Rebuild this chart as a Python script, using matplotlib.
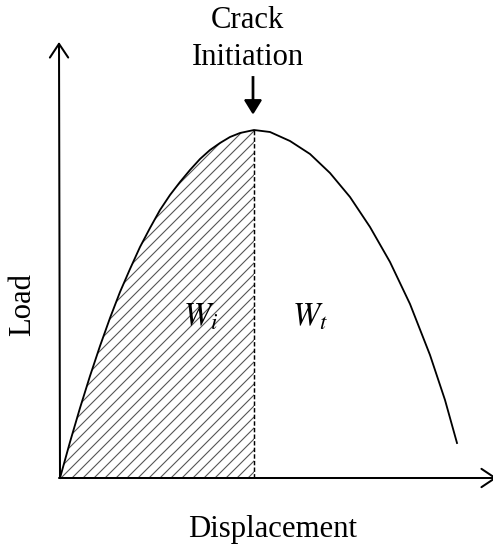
import numpy as np
import matplotlib
matplotlib.use("Agg")
import matplotlib.pyplot as plt

# load-displacement curve (arbitrary units)
displacement = [0, 10, 20, 30, 40, 50, 60, 70, 80, 90, 100, 110, 120, 130,
                140, 150, 160, 170, 180, 194, 210, 230, 250, 270, 290, 310,
                330, 350, 370, 385, 397]
load = [0, 36, 70, 102, 132, 160, 186, 209, 231, 250, 268, 283, 296, 308,
        319, 328, 335, 341, 345, 348, 346, 337, 324, 305, 281, 251,
        216, 174, 123, 78, 35]
crack_index = 19  # crack initiation at the peak load

labels = {"x": "Displacement", "y": "Load", "top": ["Crack", "Initiation"],
          "wi": r"$W_i$", "wt": r"$W_t$"}

DPI = 132
plt.rcParams["font.family"] = ["Liberation Serif", "DejaVu Serif"]
plt.rcParams["mathtext.fontset"] = "stix"
plt.rcParams["hatch.linewidth"] = 0.6

fig = plt.figure(figsize=(493 / DPI, 548 / DPI), dpi=DPI)
ax = fig.add_axes([0, 0, 1, 1])
ax.set_xlim(-60, 433)
ax.set_ylim(-70, 478)
ax.axis("off")

d = np.array(displacement)
p = np.array(load)

# hatched initiation energy
ax.fill_between(d[:crack_index + 1], 0, p[:crack_index + 1], facecolor="none",
                edgecolor="#555555", hatch="////", linewidth=0)
ax.plot(d, p, color="black", lw=1.0, solid_joinstyle="round")
ax.plot([d[crack_index], d[crack_index]], [0, p[crack_index]], color="black",
        lw=0.8, dashes=(3.0, 1.5))

# axes with open arrow heads
arrow_kw = dict(arrowstyle="->,head_length=0.75,head_width=0.5", lw=1.1,
                color="black", shrinkA=0, shrinkB=0, mutation_scale=10)
ax.annotate("", xy=(-1, 436), xytext=(0, 0), arrowprops=arrow_kw,
            annotation_clip=False)
ax.annotate("", xy=(437, 0), xytext=(-1, 0), arrowprops=arrow_kw,
            annotation_clip=False)

# crack initiation marker
ax.arrow(d[crack_index] - 1, 401, 0, -36, width=0.9, head_width=16,
         head_length=13, length_includes_head=True, fc="black", ec="black")

fs = 16.8
ax.text(187, 450, labels["top"][0], ha="center", va="baseline", fontsize=fs)
ax.text(188, 413, labels["top"][1], ha="center", va="baseline", fontsize=fs)
ax.text(141, 153, labels["wi"], ha="center", va="baseline", fontsize=fs + 1)
ax.text(250, 153, labels["wt"], ha="center", va="baseline", fontsize=fs + 1)
ax.text(-37, 174, labels["y"], ha="center", va="center", rotation=90, fontsize=fs)
ax.text(213, -59, labels["x"], ha="center", va="baseline", fontsize=fs)

fig.savefig("out.png", dpi=DPI)
